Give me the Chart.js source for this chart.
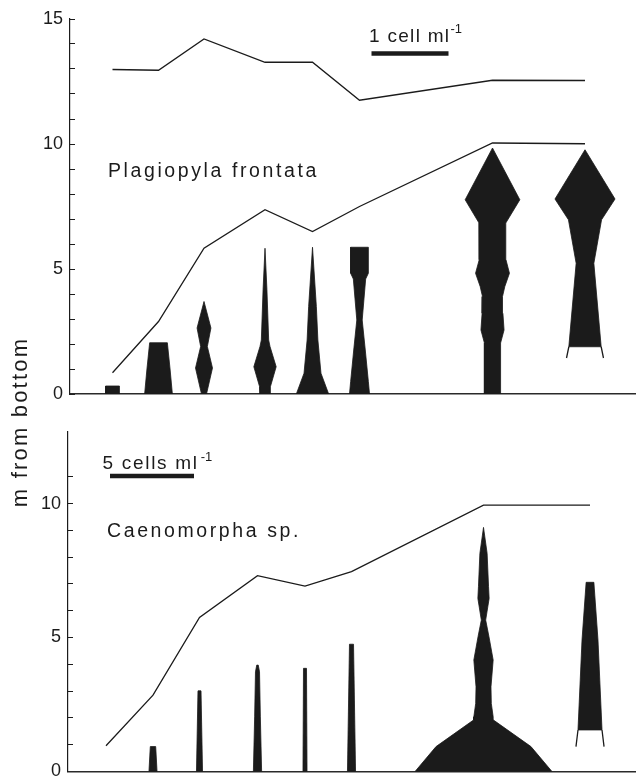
<!DOCTYPE html>
<html>
<head>
<meta charset="utf-8">
<script src="https://cdn.jsdelivr.net/npm/chart.js@4"></script>
<style>
  html, body { margin: 0; padding: 0; background: #ffffff; width: 636px; height: 778px; overflow: hidden; }
  #topChart { position: absolute; left: 0; top: -10px; width: 636px; height: 440px; }
  #bottomChart { position: absolute; left: 0; top: 400px; width: 636px; height: 400px; }
  #labels { position: absolute; left: 0; top: 0; pointer-events: none; }
</style>
</head>
<body>
<canvas id="topChart" width="636" height="440"></canvas>
<canvas id="bottomChart" width="636" height="400"></canvas>
<svg id="labels" width="636" height="778" xmlns="http://www.w3.org/2000/svg">
  <g font-family="'Liberation Sans', Arial, sans-serif" fill="#1b1b1b">
    <text x="369" y="41.7" font-size="19" letter-spacing="1.3">1 cell ml<tspan font-size="13" dy="-8.5" letter-spacing="0">-1</tspan></text>
    <text x="108" y="176.7" font-size="19.5" letter-spacing="2.6">Plagiopyla frontata</text>
    <text x="102.5" y="469.3" font-size="19" letter-spacing="1.7">5 cells ml<tspan font-size="13" dx="2" dy="-8.5" letter-spacing="0">-1</tspan></text>
    <text x="107" y="537.3" font-size="19.5" letter-spacing="2.6">Caenomorpha sp.</text>
    <text transform="translate(27,422) rotate(-90)" text-anchor="middle" font-size="22" letter-spacing="2.2">m from bottom</text>
  </g>
</svg>
<script>
// ---------------- DATA ----------------
// Station positions along the transect (distance units)
const stationPosTop    = [0.85, 1.77, 2.68, 3.90, 4.85, 5.79, 8.45, 10.30];
const stationPosBottom = [0.76, 1.70, 2.63, 3.79, 4.74, 5.67, 8.31, 10.44];

// Boundary lines (m from bottom) at each station
const upperLineTop = [12.98, 12.95, 14.20, 13.27, 13.27, 11.75, 12.55, 12.54];
const lowerLineTop = [0.85, 2.90, 5.83, 7.37, 6.50, 7.50, 10.04, 10.01];
const lineBottom   = [0.96, 2.85, 5.75, 7.31, 6.92, 7.46, 9.94, 9.94];

// Plagiopyla frontata: depth (m from bottom) and abundance (cells ml-1) per station
const plagiopylaDepths = [
  [0, 0.32],
  [0, 1.00, 2.05],
  [0, 1.04, 1.90, 2.64, 3.70],
  [0, 0.29, 1.09, 1.90, 2.16, 4.17, 5.83],
  [0, 0.83, 2.16, 3.50, 5.87],
  [0, 0.50, 1.76, 2.96, 4.60, 4.83, 5.87],
  [0, 2.04, 2.56, 3.23, 3.90, 4.30, 4.83, 5.37, 6.17, 6.84, 7.77, 9.84],
  [1.89, 5.23, 6.97, 7.80, 9.77]
];
const plagiopylaCells = [
  [0.18, 0.18],
  [0.36, 0.30, 0.23],
  [0.065, 0.22, 0.087, 0.18, 0],
  [0.13, 0.14, 0.29, 0.13, 0.095, 0.05, 0],
  [0.42, 0.22, 0.14, 0.10, 0],
  [0.26, 0.23, 0.15, 0.07, 0.16, 0.23, 0.23],
  [0.21, 0.21, 0.30, 0.27, 0.26, 0.32, 0.44, 0.35, 0.34, 0.35, 0.71, 0],
  [0.42, 0.23, 0.43, 0.78, 0]
];
// lowest sampled depth below the filled part (outline only)
const plagiopylaLegDepth = [null, null, null, null, null, null, null, 1.44];
const plagiopylaLegCells = [null, null, null, null, null, null, null, 0.48];

// Caenomorpha sp.
const caenomorphaDepths = [
  [],
  [0, 0.93],
  [0, 3.01],
  [0, 2.04, 3.72, 3.97],
  [0, 3.85],
  [0, 4.75],
  [0, 0.93, 1.92, 2.04, 2.54, 3.16, 4.16, 5.03, 5.65, 6.46, 6.90, 8.14, 9.11],
  [1.55, 4.91, 7.06]
];
const caenomorphaCells = [
  [],
  [0.48, 0.32],
  [0.36, 0.18],
  [0.49, 0.34, 0.24, 0.09],
  [0.24, 0.18],
  [0.48, 0.24],
  [8.15, 5.65, 1.19, 1.15, 0.93, 0.89, 1.15, 0.65, 0.26, 0.67, 0.60, 0.43, 0],
  [1.43, 0.95, 0.46]
];
const caenomorphaLegDepth = [null, null, null, null, null, null, null, 0.93];
const caenomorphaLegCells = [null, null, null, null, null, null, null, 1.67];

// Scale bars (cells ml-1)
const scaleBarTopCells = 1;
const scaleBarBottomCells = 5;

// Y tick labels
const yTicksTop = [0, 5, 10, 15];
const yTicksBottom = [0, 5, 10];

// ---------------- STYLE / LAYOUT ----------------
const INK = '#1b1b1b';
const topCfg = { xMax: 11.32, yMax: 15, unitsPerCell: 1.54, axisWidth: 70, padTop: 29, padBottom: 36,
                 barStart: 6.03, barDepth: 13.62 };
const botCfg = { xMax: 11.36, yMax: 12.67, unitsPerCell: 0.336, axisWidth: 68, padTop: 32, padBottom: 28.5,
                 barStart: 0.84, barDepth: 11.03 };

function lineDataset(pos, vals) {
  return {
    type: 'line',
    data: pos.map((x, i) => ({ x, y: vals[i] })),
    borderColor: INK, borderWidth: 1.3, pointRadius: 0, fill: false, tension: 0
  };
}

function kiteDatasets(pos, depths, cells, legDepth, legCells, upc) {
  const out = [];
  depths.forEach((d, i) => {
    if (!d.length) return;
    const x0 = pos[i];
    const c = cells[i];
    const right = d.map((y, k) => ({ x: x0 + c[k] * upc / 2, y }));
    const left = d.map((y, k) => ({ x: x0 - c[k] * upc / 2, y })).reverse();
    out.push({
      type: 'line',
      data: right.concat(left, [right[0]]),
      borderColor: INK, backgroundColor: INK, borderWidth: 0.8,
      pointRadius: 0, fill: 'shape', tension: 0
    });
    if (legDepth[i] != null) {
      const lw = legCells[i] * upc / 2, bw = c[0] * upc / 2;
      out.push({
        type: 'line',
        data: [
          { x: x0 - lw, y: legDepth[i] }, { x: x0 - bw, y: d[0] },
          { x: x0, y: null },
          { x: x0 + bw, y: d[0] }, { x: x0 + lw, y: legDepth[i] }
        ],
        borderColor: INK, borderWidth: 1.3, pointRadius: 0, fill: false, spanGaps: false, tension: 0
      });
    }
  });
  return out;
}

function scaleBar(cfg, cells) {
  return {
    type: 'line',
    data: [{ x: cfg.barStart, y: cfg.barDepth }, { x: cfg.barStart + cells * cfg.unitsPerCell, y: cfg.barDepth }],
    borderColor: INK, borderWidth: 4.5, borderCapStyle: 'butt', pointRadius: 0, fill: false
  };
}

function makeChart(canvasId, cfg, datasets, tickLabels) {
  return new Chart(document.getElementById(canvasId), {
    type: 'line',
    data: { datasets },
    options: {
      responsive: false, animation: false, events: [],
      layout: { padding: { left: 0, right: 0, top: cfg.padTop, bottom: cfg.padBottom } },
      plugins: { legend: { display: false }, tooltip: { enabled: false }, title: { display: false } },
      scales: {
        x: {
          type: 'linear', min: 0, max: cfg.xMax,
          ticks: { display: false },
          grid: { display: false, drawTicks: false },
          border: { display: true, color: '#2a2a2a', width: 1.5 },
          afterFit: s => { s.height = 0; }
        },
        y: {
          type: 'linear', min: 0, max: cfg.yMax,
          afterBuildTicks: s => { s.ticks = s.ticks.filter(t => Number.isInteger(t.value)); },
          ticks: {
            stepSize: 1, autoSkip: false, padding: 12, color: INK,
            font: { family: "'Liberation Sans', Arial, sans-serif", size: 18 },
            callback: v => tickLabels.includes(v) ? String(v) : ''
          },
          grid: { drawOnChartArea: false, drawTicks: true, tickLength: -5, color: INK, lineWidth: 1 },
          border: { display: true, color: INK, width: 1.2 },
          afterFit: s => { s.width = cfg.axisWidth; }
        }
      }
    }
  });
}

makeChart('topChart', topCfg, [
  lineDataset(stationPosTop, upperLineTop),
  lineDataset(stationPosTop, lowerLineTop),
  scaleBar(topCfg, scaleBarTopCells),
  ...kiteDatasets(stationPosTop, plagiopylaDepths, plagiopylaCells, plagiopylaLegDepth, plagiopylaLegCells, topCfg.unitsPerCell)
], yTicksTop);

makeChart('bottomChart', botCfg, [
  lineDataset(stationPosBottom, lineBottom),
  scaleBar(botCfg, scaleBarBottomCells),
  ...kiteDatasets(stationPosBottom, caenomorphaDepths, caenomorphaCells, caenomorphaLegDepth, caenomorphaLegCells, botCfg.unitsPerCell)
], yTicksBottom);
</script>
</body>
</html>
